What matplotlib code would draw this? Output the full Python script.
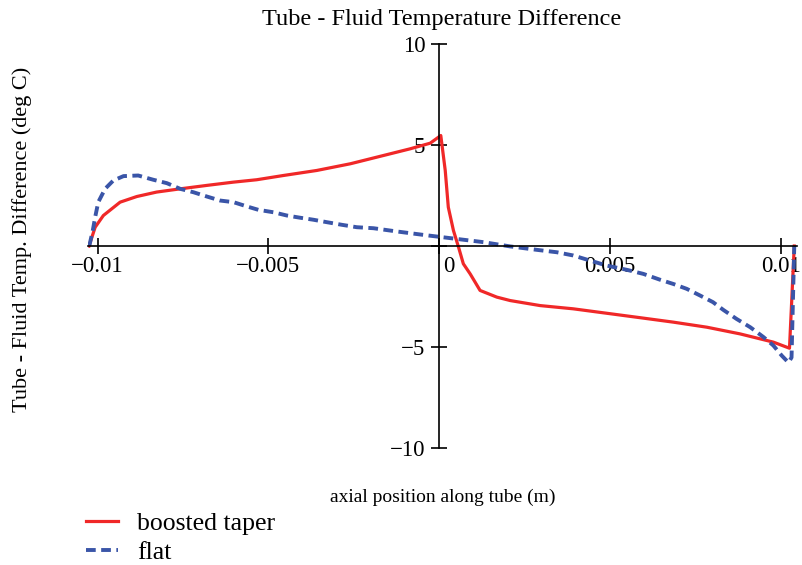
import numpy as np
import matplotlib.pyplot as plt
from matplotlib.transforms import ScaledTranslation

# Data (x in m, y in deg C)
taper_x = [-0.01025, -0.01007, -0.00983, -0.00934, -0.00885, -0.00827, -0.00758,
           -0.00680, -0.00603, -0.00534, -0.00456, -0.00358, -0.00260, -0.00163,
           -0.00085, -0.00026, 0.00005, 0.00018, 0.00027, 0.00042, 0.00057,
           0.00071, 0.00091, 0.00120, 0.00169, 0.00208, 0.00296, 0.00393,
           0.00491, 0.00589, 0.00686, 0.00784, 0.00881, 0.00979, 0.01026, 0.01040]
taper_y = [0.0, 0.93, 1.51, 2.17, 2.45, 2.67, 2.83, 3.00, 3.16, 3.28, 3.49, 3.74,
           4.07, 4.48, 4.81, 5.09, 5.47, 3.74, 1.92, 0.77, -0.06, -0.88, -1.38,
           -2.20, -2.53, -2.70, -2.95, -3.11, -3.33, -3.55, -3.77, -4.02, -4.35,
           -4.76, -5.06, 0.0]

flat_x = [-0.01024, -0.01014, -0.01007, -0.00998, -0.00978, -0.00954, -0.00924,
          -0.00881, -0.00837, -0.00797, -0.00758, -0.00719, -0.00680, -0.00641,
          -0.00602, -0.00563, -0.00529, -0.00485, -0.00446, -0.00407, -0.00368,
          -0.00329, -0.00285, -0.00241, -0.00192, -0.00124, -0.00046, -0.00007,
          0.00042, 0.00130, 0.00208, 0.00286, 0.00345, 0.00393, 0.00442, 0.00491,
          0.00550, 0.00598, 0.00647, 0.00686, 0.00725, 0.00764, 0.00802, 0.00832,
          0.00871, 0.00911, 0.00950, 0.00979, 0.01003, 0.01023, 0.01032, 0.01040]
flat_y = [0.02, 0.77, 1.43, 2.17, 2.83, 3.24, 3.46, 3.49, 3.28, 3.11, 2.83, 2.66,
          2.45, 2.25, 2.17, 1.96, 1.79, 1.67, 1.51, 1.40, 1.30, 1.18, 1.05, 0.93,
          0.88, 0.72, 0.55, 0.47, 0.37, 0.19, -0.02, -0.19, -0.31, -0.47, -0.72,
          -0.97, -1.18, -1.38, -1.67, -1.88, -2.12, -2.45, -2.78, -3.16, -3.61,
          -4.02, -4.51, -4.93, -5.42, -5.77, -5.52, 0.0]

x_ticks = [-0.01, -0.005, 0, 0.005, 0.01]
x_tick_labels = ['\u22120.01', '\u22120.005', '0', '0.005', '0.01']
y_ticks = [-10, -5, 0, 5, 10]
y_tick_labels = ['\u221210', '\u22125', '', '5', '10']

plt.rcParams['font.family'] = ['Liberation Serif', 'DejaVu Serif']

fig = plt.figure(figsize=(8.03, 5.65), dpi=100)
ax = fig.add_axes([88 / 803, 117 / 565, 709 / 803, 404 / 565])

ax.plot(taper_x, taper_y, color='#f02828', lw=2.3, label='boosted taper')
ax.plot(flat_x, flat_y, color='#3a55a8', lw=2.8, linestyle=(0, (2.5, 1.4)),
        label='flat')

ax.set_xlim(-0.01028, 0.01048)
ax.set_ylim(-10, 10)

# Mathcad style crossed axes
for s in ['top', 'right']:
    ax.spines[s].set_visible(False)
for s in ['left', 'bottom']:
    ax.spines[s].set_position('zero')
    ax.spines[s].set_linewidth(1.2)

ax.set_xticks(x_ticks)
ax.set_xticklabels(x_tick_labels)
ax.set_yticks(y_ticks)
ax.set_yticklabels(y_tick_labels)
ax.tick_params(direction='inout', length=12, width=1.2, labelsize=16.5, pad=1)
ax.tick_params(axis='y', pad=4)

# push the "0" label off the vertical axis
lbl0 = ax.get_xticklabels()[2]
lbl0.set_transform(lbl0.get_transform() + ScaledTranslation(10 / 100, 0, fig.dpi_scale_trans))

fig.text(442 / 803, 1 - 19 / 565, 'Tube - Fluid Temperature Difference',
         ha='center', va='center', fontsize=17.5)
fig.text(443 / 803, 1 - 497 / 565, 'axial position along tube (m)',
         ha='center', va='center', fontsize=14)
fig.text(22 / 803, 1 - 239 / 565, 'Tube - Fluid Temp. Difference (deg C)',
         ha='center', va='center', rotation=90, fontsize=16)

fig.legend(loc='upper left', bbox_to_anchor=(86 / 803, 1 - 512 / 565),
           frameon=False, fontsize=18.5, handlelength=1.25, handletextpad=0.75,
           borderpad=0, borderaxespad=0, labelspacing=0.22)

fig.savefig('out.png', dpi=100)
